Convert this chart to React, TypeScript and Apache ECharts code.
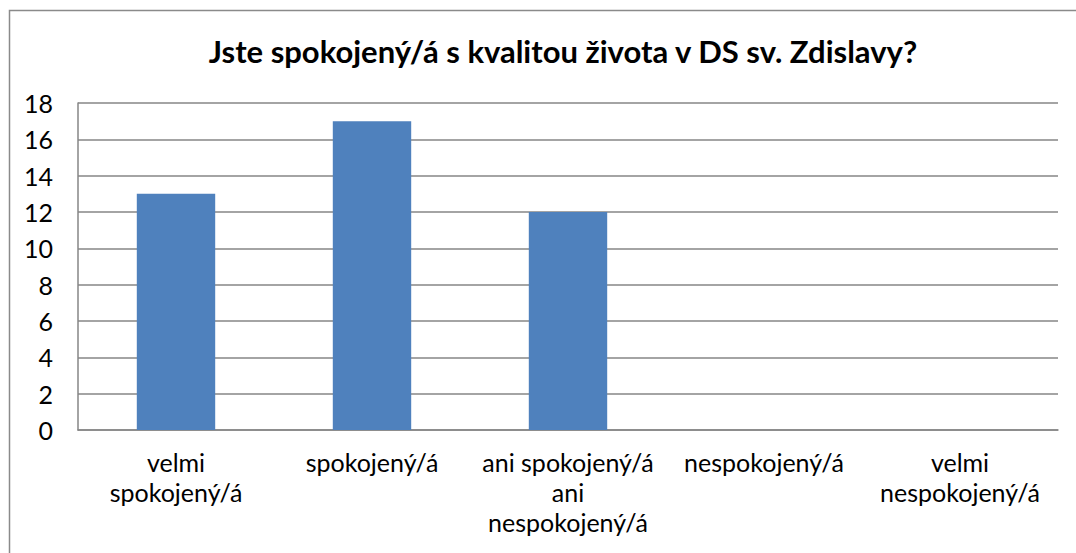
import React, { useEffect, useRef } from "react";
import * as echarts from "echarts";

const titleText = "Jste spokojený/á s kvalitou života v DS sv. Zdislavy?";
const categories = [
  "velmi\nspokojený/á",
  "spokojený/á",
  "ani spokojený/á\nani\nnespokojený/á",
  "nespokojený/á",
  "velmi\nnespokojený/á",
];
const values = [13, 17, 12, 0, 0];
const yMin = 0;
const yMax = 18;
const yStep = 2;

const FONT = "Lato, 'Open Sans', sans-serif";

export default function App() {
  const ref = useRef<HTMLDivElement>(null);
  useEffect(() => {
    if (!ref.current) return;
    const chart = echarts.init(ref.current, undefined, { renderer: "svg" });
    chart.setOption({
      animation: false,
      backgroundColor: "#ffffff",
      textStyle: { fontFamily: FONT },
      graphic: [
        {
          type: "rect",
          silent: true,
          shape: { x: 9.5, y: 10.5, width: 1200, height: 700 },
          style: { fill: "none", stroke: "#8a8a8a", lineWidth: 1.5 },
        },
        {
          type: "text",
          x: 563,
          y: 51,
          style: {
            text: titleText,
            fontFamily: FONT,
            fontWeight: "bold",
            fontSize: 31,
            fill: "#000000",
            align: "center",
            verticalAlign: "middle",
          },
        },
      ],
      grid: { left: 78, right: 18, top: 103, bottom: 123, containLabel: false },
      xAxis: {
        type: "category",
        data: categories,
        axisLine: { show: true, lineStyle: { color: "#868686", width: 1.5 } },
        axisTick: { show: false },
        axisLabel: {
          color: "#000000",
          fontFamily: FONT,
          fontSize: 25,
          lineHeight: 30,
          margin: 17,
          interval: 0,
        },
      },
      yAxis: {
        type: "value",
        min: yMin,
        max: yMax,
        interval: yStep,
        axisLine: { show: true, lineStyle: { color: "#868686", width: 1.5 } },
        axisTick: { show: false },
        splitLine: { show: true, lineStyle: { color: "#868686", width: 1.5 } },
        axisLabel: {
          color: "#000000",
          fontFamily: FONT,
          fontSize: 25,
          margin: 25,
        },
      },
      series: [
        {
          type: "bar",
          data: values,
          barWidth: "40%",
          itemStyle: { color: "#4F81BD" },
        },
      ],
    });
    return () => chart.dispose();
  }, []);
  return (
    <div
      ref={ref}
      style={{ position: "absolute", left: 0, top: 0, width: 1076, height: 553 }}
    />
  );
}
